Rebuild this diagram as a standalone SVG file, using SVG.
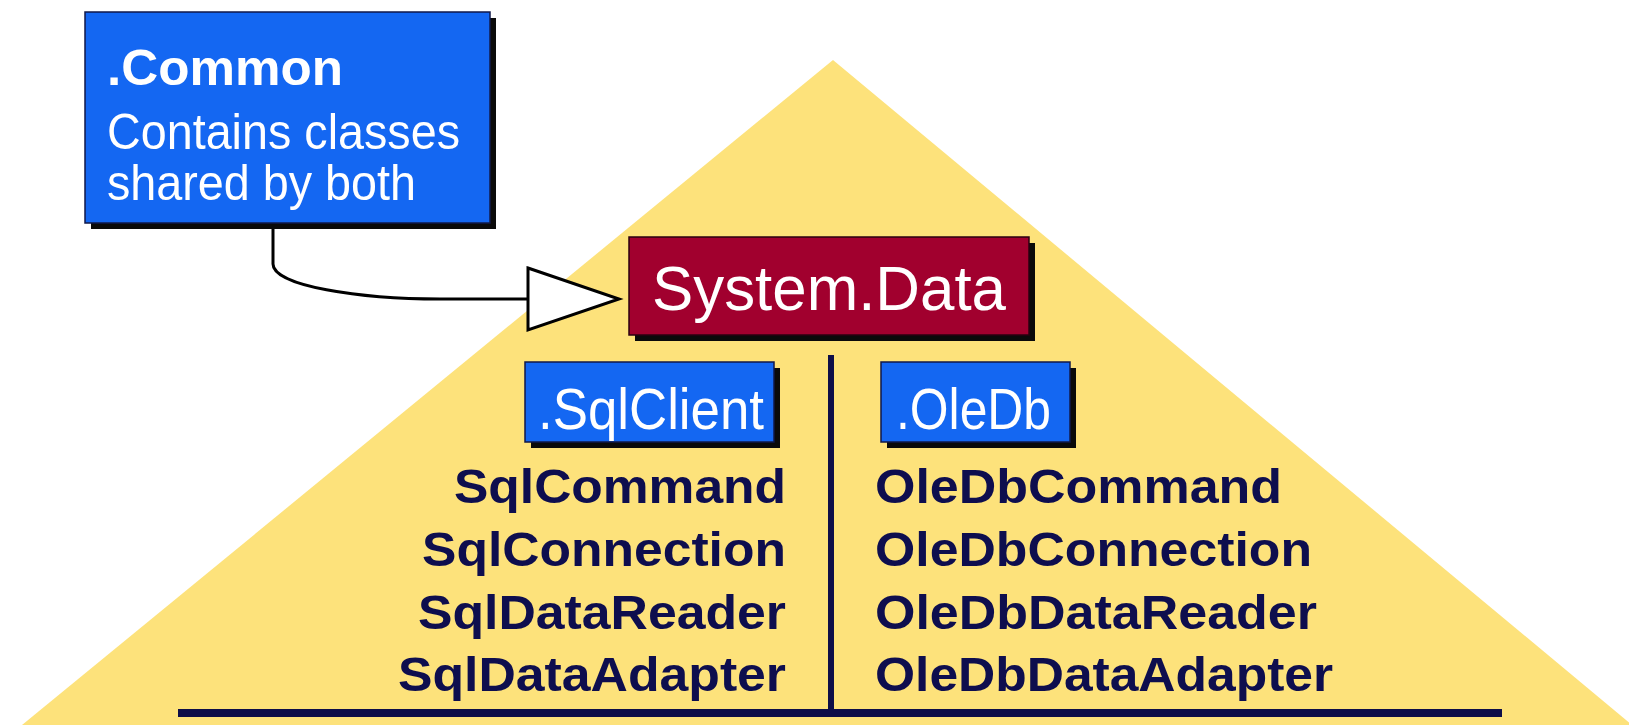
<svg xmlns="http://www.w3.org/2000/svg" width="1629" height="725" viewBox="0 0 1629 725">
  <style>
    .shadow { fill: #0a0a0a; }
    .blue { fill: #1467f2; stroke: #10184a; stroke-width: 1.5; }
    .maroon { fill: #a1002e; stroke: #2a0010; stroke-width: 1.5; }
    .white { fill: #ffffff; font-family: "Liberation Sans", Arial, sans-serif; }
    .item { fill: #0e0e4e; font-family: "Liberation Sans", Arial, sans-serif; font-weight: bold; font-size: 49px; }
    .rule { stroke: #0e0e48; fill: none; }
  </style>

  <!-- background -->
  <rect width="1629" height="725" fill="#ffffff"/>

  <!-- pyramid -->
  <polygon points="22,725 833,60 1632,725" fill="#fde27b"/>

  <!-- dividers -->
  <g id="dividers">
    <line class="rule" x1="831" y1="355" x2="831" y2="713" stroke-width="6"/>
    <line class="rule" x1="178" y1="713" x2="1502" y2="713" stroke-width="8"/>
  </g>

  <!-- connector from .Common to System.Data -->
  <g id="connectors">
    <path d="M273,223 V264 C273,286 360,299 440,299 H528" fill="none" stroke="#000" stroke-width="3"/>
    <polygon points="528,268 619,299 528,330" fill="#ffffff" stroke="#000" stroke-width="3" stroke-linejoin="miter"/>
  </g>

  <!-- .Common box -->
  <g id="common">
    <rect class="shadow" x="91" y="18" width="405" height="211"/>
    <rect class="blue" x="85" y="12" width="405" height="211"/>
    <text class="white" x="107" y="85" font-size="50" font-weight="bold" textLength="236" lengthAdjust="spacingAndGlyphs">.Common</text>
    <text class="white" x="107" y="149" font-size="50" textLength="353" lengthAdjust="spacingAndGlyphs">Contains classes</text>
    <text class="white" x="107" y="200" font-size="50" textLength="309" lengthAdjust="spacingAndGlyphs">shared by both</text>
  </g>

  <!-- System.Data box -->
  <g id="system-data">
    <rect class="shadow" x="635" y="243" width="400" height="98"/>
    <rect class="maroon" x="629" y="237" width="400" height="98"/>
    <text class="white" x="652" y="310" font-size="63" textLength="354" lengthAdjust="spacingAndGlyphs">System.Data</text>
  </g>

  <!-- .SqlClient box -->
  <g id="sqlclient">
    <rect class="shadow" x="531" y="368" width="249" height="80"/>
    <rect class="blue" x="525" y="362" width="249" height="80"/>
    <text class="white" x="538" y="429" font-size="57" textLength="226" lengthAdjust="spacingAndGlyphs">.SqlClient</text>
  </g>

  <!-- .OleDb box -->
  <g id="oledb">
    <rect class="shadow" x="887" y="368" width="189" height="80"/>
    <rect class="blue" x="881" y="362" width="189" height="80"/>
    <text class="white" x="896" y="429" font-size="57" textLength="155" lengthAdjust="spacingAndGlyphs">.OleDb</text>
  </g>

  <!-- SqlClient classes -->
  <g id="sql-classes">
    <text class="item" x="454" y="503" textLength="332" lengthAdjust="spacingAndGlyphs">SqlCommand</text>
    <text class="item" x="422" y="566" textLength="364" lengthAdjust="spacingAndGlyphs">SqlConnection</text>
    <text class="item" x="418" y="629" textLength="368" lengthAdjust="spacingAndGlyphs">SqlDataReader</text>
    <text class="item" x="398" y="691" textLength="388" lengthAdjust="spacingAndGlyphs">SqlDataAdapter</text>
  </g>

  <!-- OleDb classes -->
  <g id="oledb-classes">
    <text class="item" x="875" y="503" textLength="407" lengthAdjust="spacingAndGlyphs">OleDbCommand</text>
    <text class="item" x="875" y="566" textLength="437" lengthAdjust="spacingAndGlyphs">OleDbConnection</text>
    <text class="item" x="875" y="629" textLength="442" lengthAdjust="spacingAndGlyphs">OleDbDataReader</text>
    <text class="item" x="875" y="691" textLength="458" lengthAdjust="spacingAndGlyphs">OleDbDataAdapter</text>
  </g>
</svg>
